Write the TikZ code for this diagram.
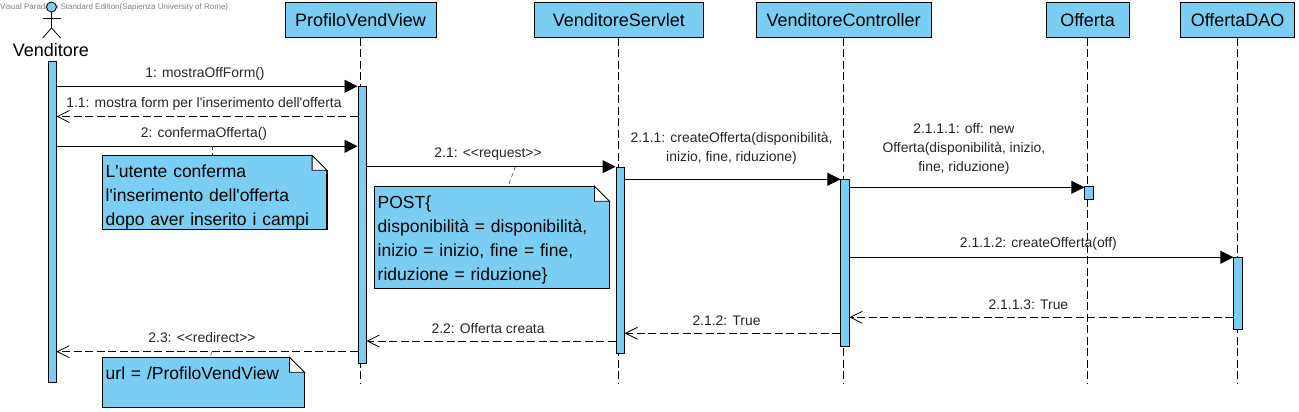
\documentclass[tikz,border=0pt]{standalone}
\usepackage{fontspec}
\setmainfont{Liberation Sans}
\usepackage{xcolor}
\usetikzlibrary{positioning,calc,arrows.meta}

\definecolor{vpblue}{HTML}{7ACEF4}
\tikzset{
	header/.style={draw, fill=vpblue, line width=0.8pt, minimum height=35pt, inner sep=0pt, font=\fontsize{18}{20}\selectfont},
	life/.style={line width=0.8pt, dash pattern=on 8pt off 3.5pt},
	bar/.style={draw, fill=vpblue, line width=0.8pt, anchor=north west, minimum width=8.2pt, inner sep=0pt},
	call/.style={line width=0.8pt, -{Triangle[length=13pt,width=13pt]}},
	reply/.style={line width=0.8pt, dash pattern=on 8pt off 3.5pt, -{Straight Barb[length=12pt,width=12pt,line width=0.8pt]}},
	msg/.style={midway, above=6pt, inner sep=0pt, align=center, text=black!85, font=\fontsize{13.9}{19}\selectfont},
	notebox/.style={draw, fill=vpblue, line width=0.8pt, anchor=north west, inner xsep=3pt, inner ysep=0pt, text height=21.3pt, align=left, font=\fontsize{17.5}{24}\selectfont},
	notelink/.style={line width=0.6pt, dash pattern=on 4pt off 3pt, black!70}
}
\newcommand{\notefold}[1]{
	\fill[white] ($(#1.north east)+(-15,-1)$) rectangle ($(#1.north east)+(1,15)$);
	\draw[line width=0.8pt, fill=white] ($(#1.north east)+(-15,0)$) -- ($(#1.north east)+(-15,15)$) -- ($(#1.north east)+(0,15)$) -- cycle;
	\draw[line width=0.8pt] ($(#1.north east)+(0,15)$) -- (#1.south east);
}

\begin{document}
\begin{tikzpicture}[x=1pt, y=-1pt]
	\useasboundingbox (0,0) rectangle (1299,412);
	\node[inner sep=0pt, anchor=west, text=black!50, font=\fontsize{8}{9}\selectfont] (mark) at (0,7.5) {Visual Paradigm Standard Edition(Sapienza University of Rome)};

	\node[circle, draw, fill=vpblue, line width=0.8pt, minimum size=10pt, inner sep=0pt] (head) at (51.5,7) {};
	\coordinate (hip) at (51.5,28);
	\draw[line width=0.8pt] (head.south) -- (hip);
	\draw[line width=0.8pt] (42.7,18) -- (60.7,18);
	\draw[line width=0.8pt] (42.7,38) -- (hip) -- (60.7,38);
	\node[inner sep=0pt, font=\fontsize{18}{20}\selectfont] (actor) at (50.8,50.5) {Venditore};

	\node[header, minimum width=151pt] (view) at (360.6,19.8) {ProfiloVendView};
	\node[header, minimum width=169pt] (servlet) at (618.8,19.8) {VenditoreServlet};
	\node[header, minimum width=175pt] (ctrl) at (843.6,19.8) {VenditoreController};
	\node[header, minimum width=83pt] (offerta) at (1087.6,19.8) {Offerta};
	\node[header, minimum width=114pt] (dao) at (1237.6,19.8) {OffertaDAO};

	\coordinate (bottom) at (0,384);
	\draw[life] (view.south) -- (view.south |- bottom);
	\draw[life] (servlet.south) -- (servlet.south |- bottom);
	\draw[life] (ctrl.south) -- (ctrl.south |- bottom);
	\draw[life] (offerta.south) -- (offerta.south |- bottom);
	\draw[life] (dao.south) -- (dao.south |- bottom);

	\node[bar, minimum height=321pt] (a0) at (47.5,61) {};
	\node[bar, minimum height=277pt] (a1) at (357.5,86.3) {};
	\node[bar, minimum height=186.5pt] (a2) at (615.6,166.7) {};
	\node[bar, minimum height=166.4pt] (a3) at (840.4,179.3) {};
	\node[bar, minimum height=12.4pt] (a4) at (1084.4,186.3) {};
	\node[bar, minimum height=72pt] (a5) at (1233.4,257.3) {};

	\coordinate (m1) at (0,86.3);
	\coordinate (m11) at (0,116.5);
	\coordinate (m2) at (0,146.3);
	\coordinate (m21) at (0,166.7);
	\coordinate (m211) at (0,179.3);
	\coordinate (m2111) at (0,187.3);
	\coordinate (m2112) at (0,257.3);
	\coordinate (m2113) at (0,317.3);
	\coordinate (m212) at (0,333.3);
	\coordinate (m22) at (0,341);
	\coordinate (m23) at (0,351.7);

	\draw[call] (a0.east |- m1) -- (a1.west |- m1) node[msg, xshift=-2pt, above=5.3pt] {1: mostraOffForm()};
	\draw[reply] (a1.west |- m11) -- (a0.east |- m11) node[msg, xshift=-3pt] {1.1: mostra form per l\textquotesingle inserimento dell\textquotesingle offerta};
	\draw[call] (a0.east |- m2) -- (a1.west |- m2) node[msg, xshift=-3pt] {2: confermaOfferta()};
	\draw[call] (a1.east |- m21) -- (a2.west |- m21) node[msg, xshift=-3pt] {2.1: <{}<request>{}>};
	\draw[call] (a2.east |- m211) -- (a3.west |- m211) node[msg, xshift=-1pt, above=15pt] {2.1.1: createOfferta(disponibilità,\\inizio, fine, riduzione)};
	\draw[call] (a3.east |- m2111) -- (a4.west |- m2111) node[msg, xshift=-3pt, above=13pt] {2.1.1.1: off: new\\Offerta(disponibilità, inizio,\\fine, riduzione)};
	\draw[call] (a3.east |- m2112) -- (a5.west |- m2112) node[msg, xshift=-3pt, above=7pt] {2.1.1.2: createOfferta(off)};
	\draw[reply] (a5.west |- m2113) -- (a3.east |- m2113) node[msg, xshift=-13pt, above=6.8pt] {2.1.1.3: True};
	\draw[reply] (a3.west |- m212) -- (a2.east |- m212) node[msg, xshift=-6pt, above=7.5pt] {2.1.2: True};
	\draw[reply] (a2.west |- m22) -- (a1.east |- m22) node[msg, xshift=-3pt, above=6.5pt] {2.2: Offerta creata};
	\draw[reply] (a1.west |- m23) -- (a0.east |- m23) node[msg, xshift=-5pt, above=8.5pt] {2.3: <{}<redirect>{}>};

	\node[notebox, text width=218pt, text depth=52.1pt] (n1) at (102.3,155.3) {L\textquotesingle utente conferma\\l\textquotesingle inserimento dell\textquotesingle offerta\\dopo aver inserito i campi};
	\node[notebox, text width=228.4pt, text depth=80.7pt] (n2) at (374.3,186.3) {POST\{\\disponibilità = disponibilità,\\inizio = inizio, fine = fine,\\riduzione = riduzione\}};
	\node[notebox, text width=195.4pt, text depth=28.7pt] (n3) at (102.3,357.3) {url = /ProfiloVendView};
	\notefold{n1}
	\notefold{n2}
	\notefold{n3}

	\coordinate (l1) at (212,146.3);
	\coordinate (l2) at (515.5,166.7);
	\coordinate (l3) at (212,351.7);
	\draw[notelink] (l1) -- (l1 |- n1.north);
	\draw[notelink] (l2) -- (508,186.3);
	\draw[notelink] (l3) -- (210,357.3);
\end{tikzpicture}
\end{document}
